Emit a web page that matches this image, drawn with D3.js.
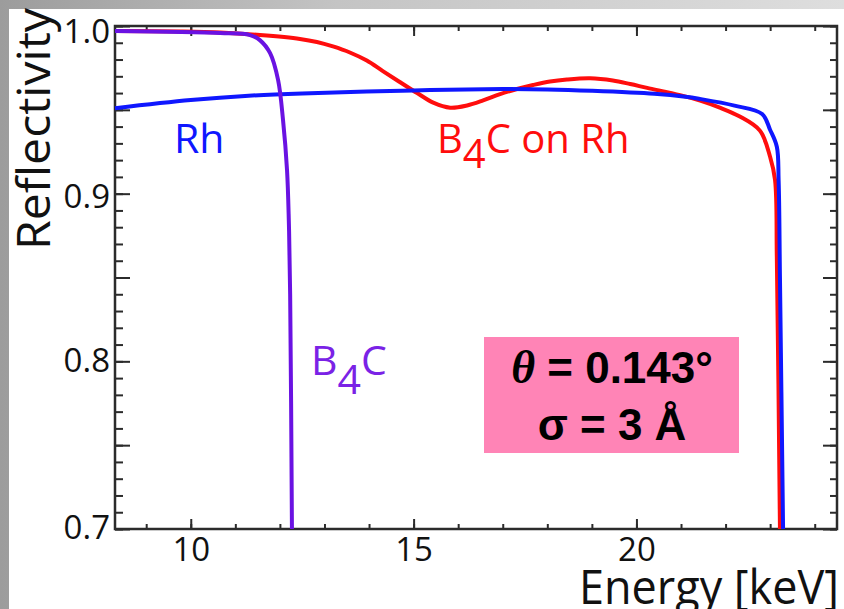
<!DOCTYPE html>
<html>
<head>
<meta charset="utf-8">
<script src="https://cdn.jsdelivr.net/npm/d3@7"></script>
<style>
  html, body { margin: 0; padding: 0; background: #fff; }
  svg { display: block; }
</style>
</head>
<body>
<svg id="chart" width="844" height="609"></svg>
<script>
// ---------------- data ----------------
const rhEnergy   = [8.3, 10.0, 11.3, 12.5, 15.0, 17.0, 18.0, 19.0, 20.4, 21.1, 21.4, 22.2, 22.82, 23.0, 23.15, 23.19, 23.22, 23.29];
const rhRefl     = [0.951, 0.9558, 0.9584, 0.9598, 0.9616, 0.9624, 0.9622, 0.9614, 0.9596, 0.9578, 0.9566, 0.9525, 0.9475, 0.938, 0.928, 0.908, 0.85, 0.70];

const b4cRhEnergy = [8.3, 9.76, 10.66, 11.55, 12.45, 12.83, 13.19, 13.57, 13.95, 14.31, 14.69, 15.08, 15.44, 15.82, 16.2, 16.56, 16.94, 17.32, 17.68, 18.06, 18.44, 18.96, 19.47, 19.86, 20.24, 20.98, 21.43, 21.87, 22.32, 22.77, 23.0, 23.11, 23.15, 23.22];
const b4cRhRefl   = [0.997, 0.9967, 0.9961, 0.9946, 0.9923, 0.9905, 0.9878, 0.9842, 0.9794, 0.9731, 0.9666, 0.960, 0.9543, 0.9513, 0.9526, 0.9556, 0.9594, 0.9624, 0.9648, 0.9669, 0.9681, 0.9688, 0.9675, 0.9654, 0.9631, 0.9588, 0.9555, 0.9513, 0.946, 0.9376, 0.9219, 0.9081, 0.8622, 0.70];

const b4cEnergy = [8.3, 10.66, 11.33, 11.55, 11.78, 11.96, 12.07, 12.16, 12.2, 12.23, 12.27];
const b4cRefl   = [0.997, 0.9958, 0.9946, 0.9916, 0.9838, 0.9677, 0.9439, 0.914, 0.884, 0.84, 0.70];

const xMajorTicks = [10, 15, 20];
const xMinorTicks = d3.range(9, 25, 1);
const yLabelTicks = [0.7, 0.8, 0.9, 1.0];
const yMajorTicks = d3.range(0, 7).map(i => +(0.7 + i * 0.05).toFixed(2));
const yMinorTicks = d3.range(0, 31).map(i => +(0.7 + i * 0.01).toFixed(2));

const xDomain = [8.3, 24.5];
const yDomain = [0.7, 1.0];

// ---------------- layout ----------------
const svg = d3.select("#chart");
const W = 844, H = 609;
const plot = { left: 115, right: 837, top: 26, bottom: 529 };

const defs = svg.append("defs");
const grad = defs.append("linearGradient").attr("id", "bg").attr("x1", "0").attr("x2", "1").attr("y1", "0").attr("y2", "0");
grad.append("stop").attr("offset", "0").attr("stop-color", "#9c9c9c");
grad.append("stop").attr("offset", "0.4").attr("stop-color", "#c4c4c4");
grad.append("stop").attr("offset", "1").attr("stop-color", "#dedede");

svg.append("rect").attr("width", W).attr("height", H).attr("fill", "url(#bg)");
svg.append("rect").attr("x", 9).attr("y", 9).attr("width", W - 9).attr("height", H - 9).attr("fill", "#fff");

const x = d3.scaleLinear().domain(xDomain).range([plot.left, plot.right]);
const y = d3.scaleLinear().domain(yDomain).range([plot.bottom, plot.top]);

const axisColor = "#2b2b2b";
const tickFont = "'Open Sans', 'DejaVu Sans', sans-serif";

function styleAxis(g) {
  g.selectAll(".domain").remove();
  g.selectAll(".tick line").attr("stroke", axisColor).attr("stroke-width", 2);
  g.selectAll(".tick text").attr("fill", "#111").attr("font-family", tickFont).attr("font-size", 33);
}

// bottom minor & major
svg.append("g").attr("transform", `translate(0,${plot.bottom})`)
  .call(d3.axisBottom(x).tickValues(xMinorTicks).tickSize(-5).tickFormat(""))
  .call(styleAxis);
svg.append("g").attr("transform", `translate(0,${plot.bottom})`)
  .call(d3.axisBottom(x).tickValues(xMajorTicks).tickSize(-10).tickPadding(9).tickFormat(d3.format("d")))
  .call(styleAxis);
// top mirror
svg.append("g").attr("transform", `translate(0,${plot.top})`)
  .call(d3.axisTop(x).tickValues(xMinorTicks).tickSize(-5).tickFormat(""))
  .call(styleAxis);
svg.append("g").attr("transform", `translate(0,${plot.top})`)
  .call(d3.axisTop(x).tickValues(xMajorTicks).tickSize(-10).tickFormat(""))
  .call(styleAxis);

// left
svg.append("g").attr("transform", `translate(${plot.left},0)`)
  .call(d3.axisLeft(y).tickValues(yMinorTicks).tickSize(-8).tickFormat(""))
  .call(styleAxis);
svg.append("g").attr("transform", `translate(${plot.left},0)`)
  .call(d3.axisLeft(y).tickValues(yMajorTicks).tickSize(-15).tickFormat(""))
  .call(styleAxis);
const yLab = svg.append("g").attr("transform", `translate(${plot.left},0)`)
  .call(d3.axisLeft(y).tickValues(yLabelTicks).tickSize(0).tickPadding(5).tickFormat(d3.format(".1f")))
  .call(styleAxis);
yLab.selectAll(".tick text").attr("dy", d => d === 1.0 ? "0.5em" : (d === 0.9 ? "0.42em" : "0.3em"));

// right mirror
svg.append("g").attr("transform", `translate(${plot.right},0)`)
  .call(d3.axisRight(y).tickValues(yMinorTicks).tickSize(-7).tickFormat(""))
  .call(styleAxis);
svg.append("g").attr("transform", `translate(${plot.right},0)`)
  .call(d3.axisRight(y).tickValues(yMajorTicks).tickSize(-14).tickFormat(""))
  .call(styleAxis);

// frame
svg.append("rect")
  .attr("x", plot.left).attr("y", plot.top)
  .attr("width", plot.right - plot.left).attr("height", plot.bottom - plot.top)
  .attr("fill", "none").attr("stroke", axisColor).attr("stroke-width", 2.5);

// ---------------- curves ----------------
const line = d3.line().x(d => x(d[0])).y(d => y(d[1])).curve(d3.curveCatmullRom.alpha(0.5));
const series = [
  { e: b4cRhEnergy, r: b4cRhRefl, color: "#ff0d0d" },
  { e: rhEnergy, r: rhRefl, color: "#0f17ff" },
  { e: b4cEnergy, r: b4cRefl, color: "#6a12e2" }
];
series.forEach(s => {
  svg.append("path")
    .datum(d3.zip(s.e, s.r))
    .attr("d", line)
    .attr("fill", "none")
    .attr("stroke", s.color)
    .attr("stroke-width", 4)
    .attr("stroke-linejoin", "round");
});

// ---------------- labels ----------------
const labFont = "'Open Sans', 'DejaVu Sans', sans-serif";
svg.append("text").attr("x", 174).attr("y", 153)
  .attr("font-family", labFont).attr("font-size", 41).attr("fill", "#0f17ff").text("Rh");

const t1 = svg.append("text").attr("x", 437).attr("y", 153)
  .attr("font-family", labFont).attr("font-size", 40).attr("fill", "#ff0d0d");
t1.append("tspan").text("B");
t1.append("tspan").attr("dy", 15).text("4");
t1.append("tspan").attr("dy", -15).text("C on Rh");

const t2 = svg.append("text").attr("x", 311).attr("y", 375)
  .attr("font-family", labFont).attr("font-size", 41).attr("fill", "#7a22e6");
t2.append("tspan").text("B");
t2.append("tspan").attr("dy", 19).text("4");
t2.append("tspan").attr("dy", -19).text("C");

// axis titles
svg.append("text")
  .attr("x", 839).attr("y", 604)
  .attr("text-anchor", "end")
  .attr("font-family", labFont).attr("font-size", 47).attr("fill", "#111")
  .attr("textLength", 260).attr("lengthAdjust", "spacingAndGlyphs")
  .text("Energy [keV]");

svg.append("text")
  .attr("transform", "translate(50,250) rotate(-90)")
  .attr("x", 0).attr("y", 0)
  .attr("font-family", labFont).attr("font-size", 46).attr("fill", "#111")
  .attr("textLength", 242).attr("lengthAdjust", "spacingAndGlyphs")
  .text("Reflectivity");

// parameter box
svg.append("rect").attr("x", 484).attr("y", 337).attr("width", 255).attr("height", 116).attr("fill", "#ff84b6");
const p1 = svg.append("text").attr("x", 612).attr("y", 383).attr("text-anchor", "middle")
  .attr("font-family", "'Liberation Sans', Arial, sans-serif").attr("font-weight", "bold").attr("font-size", 44).attr("fill", "#000");
p1.append("tspan").attr("font-family", "'Liberation Serif', 'DejaVu Serif', serif").attr("font-style", "italic").attr("font-weight", "bold").attr("font-size", 46).text("θ");
p1.append("tspan").text(" = 0.143°");
svg.append("text").attr("x", 612).attr("y", 440).attr("text-anchor", "middle")
  .attr("font-family", "'Liberation Sans', Arial, sans-serif").attr("font-weight", "bold").attr("font-size", 44).attr("fill", "#000")
  .text("σ = 3 Å");
</script>
</body>
</html>
